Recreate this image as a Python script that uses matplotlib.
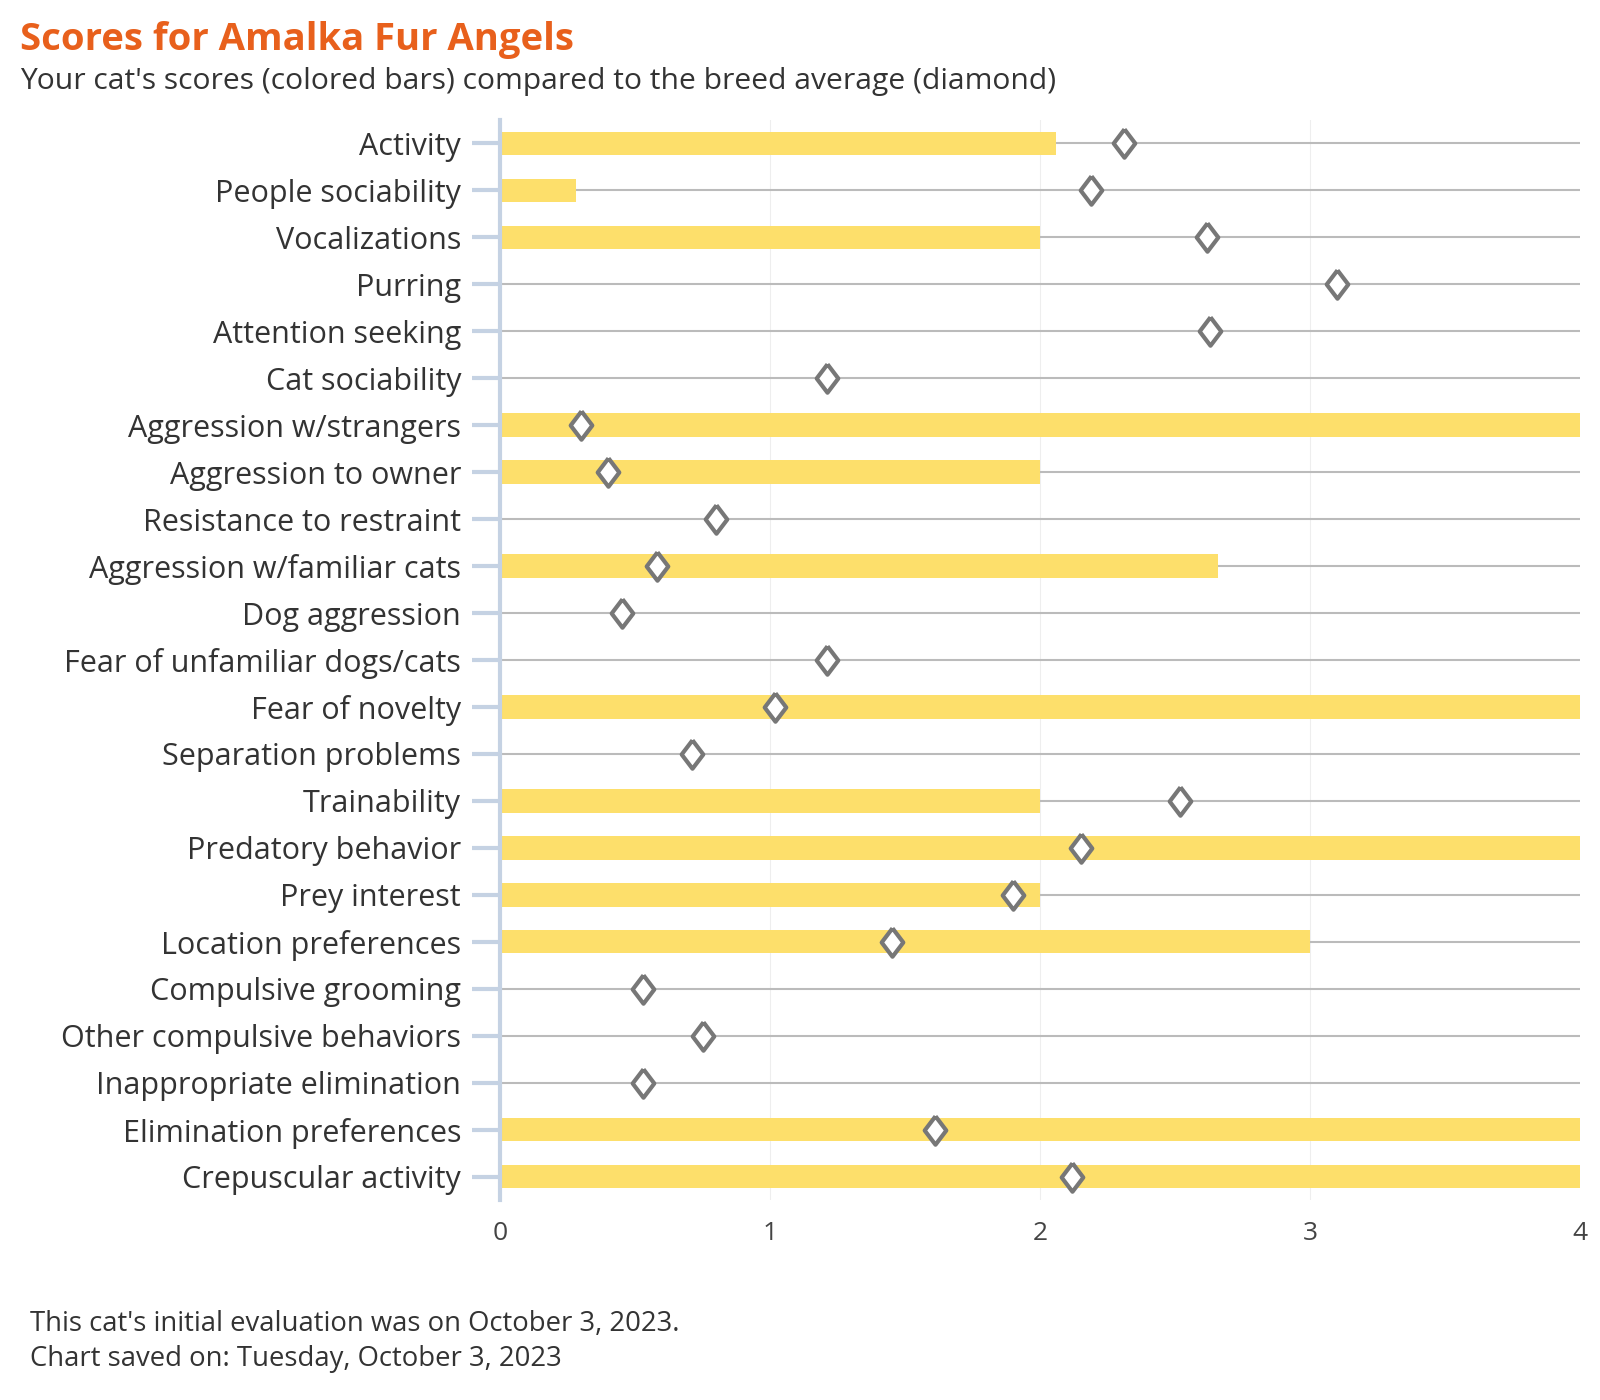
import matplotlib
matplotlib.use("Agg")
import matplotlib.pyplot as plt
import numpy as np

categories = [
    "Activity", "People sociability", "Vocalizations", "Purring",
    "Attention seeking", "Cat sociability", "Aggression w/strangers",
    "Aggression to owner", "Resistance to restraint",
    "Aggression w/familiar cats", "Dog aggression",
    "Fear of unfamiliar dogs/cats", "Fear of novelty",
    "Separation problems", "Trainability", "Predatory behavior",
    "Prey interest", "Location preferences", "Compulsive grooming",
    "Other compulsive behaviors", "Inappropriate elimination",
    "Elimination preferences", "Crepuscular activity",
]
cat_scores = [2.06, 0.28, 2.0, 0, 0, 0, 4, 2, 0, 2.66, 0, 0, 4, 0, 2, 4, 2, 3,
              0, 0, 0, 4, 4]
breed_avg = [2.31, 2.19, 2.62, 3.10, 2.63, 1.21, 0.30, 0.40, 0.80, 0.58, 0.45,
             1.21, 1.02, 0.71, 2.52, 2.15, 1.90, 1.45, 0.53, 0.75, 0.53, 1.61,
             2.12]
x_ticks = [0, 1, 2, 3, 4]

FONT = "Open Sans"
plt.rcParams["font.family"] = [FONT, "DejaVu Sans"]

fig = plt.figure(figsize=(16, 14), dpi=100)
ax = fig.add_axes([500 / 1600, 1 - 1200 / 1400, 1080 / 1600, 1080 / 1400])

n = len(categories)
y = np.arange(n)

ax.hlines(y, 0, 4, color="#bbbbbb", linewidth=1.5, zorder=1)
ax.barh(y, cat_scores, height=0.5, color="#fddf6b", zorder=2)
diamond = [(0, 1), (0.76, 0), (0, -1), (-0.76, 0), (0, 1)]
ax.plot(breed_avg, y, linestyle="none", marker=diamond, markersize=20.5,
        markerfacecolor="white", markeredgecolor="#777777",
        markeredgewidth=3, zorder=3)

ax.set_xlim(0, 4)
ax.set_ylim(n - 0.5, -0.5)
ax.set_xticks(x_ticks)
ax.set_xticklabels([str(t) for t in x_ticks])
ax.set_yticks(y)
ax.set_yticklabels(categories)
for v in x_ticks[1:-1]:
    ax.axvline(v, color="#eeeeee", linewidth=0.8, zorder=0)

for s in ["top", "right", "bottom"]:
    ax.spines[s].set_visible(False)
ax.spines["left"].set_color("#c5d2e3")
ax.spines["left"].set_linewidth(3)

ax.tick_params(axis="y", length=20, width=3, color="#c5d2e3", pad=8,
               labelsize=22, labelcolor="#333333")
ax.tick_params(axis="x", length=0, pad=15, labelsize=19, labelcolor="#444444")

fig.text(20 / 1600, 1 - 40 / 1400, "Scores for Amalka Fur Angels",
         fontsize=27.5, fontweight="bold", color="#e8601c", va="center",
         ha="left")
fig.text(20 / 1600, 1 - 81 / 1400,
         "Your cat's scores (colored bars) compared to the breed average (diamond)",
         fontsize=21.6, color="#333333", va="center", ha="left")
fig.text(30 / 1600, 1 - 1324 / 1400,
         "This cat's initial evaluation was on October 3, 2023.",
         fontsize=19.8, color="#333333", va="center", ha="left")
fig.text(30 / 1600, 1 - 1359 / 1400,
         "Chart saved on: Tuesday, October 3, 2023",
         fontsize=19.8, color="#333333", va="center", ha="left")

fig.savefig("out.png", dpi=100, facecolor="white")
